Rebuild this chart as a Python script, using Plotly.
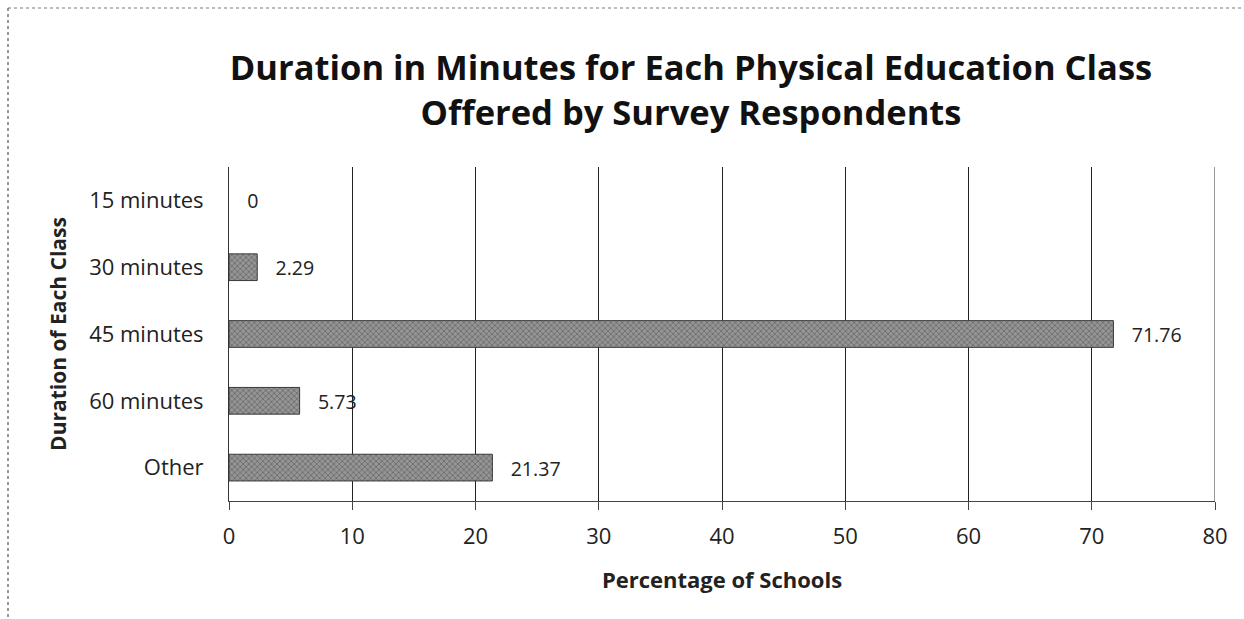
import plotly.graph_objects as go

categories = ["15 minutes", "30 minutes", "45 minutes", "60 minutes", "Other"]
percentages = [0, 2.29, 71.76, 5.73, 21.37]
value_labels = ["0", "2.29", "71.76", "5.73", "21.37"]
x_ticks = [0, 10, 20, 30, 40, 50, 60, 70, 80]

FONT = "Open Sans"
W, H = 1244, 619
ML, MR, MT, MB = 229, 29, 167, 118
PW, PH = W - ML - MR, H - MT - MB

PAD = "\u00a0" * 3  # space between bar end and its value label

fig = go.Figure(
    go.Bar(
        y=categories,
        x=percentages,
        orientation="h",
        text=[PAD + t for t in value_labels],
        textposition="outside",
        cliponaxis=False,
        textfont=dict(family=FONT, size=22, color="#222"),
        marker=dict(
            color="#868686",
            line=dict(color="#3a3a3a", width=[0 if v == 0 else 1 for v in percentages]),
            pattern=dict(shape="x", fgcolor="#444444", bgcolor="#959595", size=4, solidity=0.4),
        ),
        width=0.4,
    )
)

fig.update_layout(
    width=W,
    height=H,
    margin=dict(l=ML, r=MR, t=MT, b=MB),
    paper_bgcolor="white",
    plot_bgcolor="white",
    showlegend=False,
    title=dict(
        text="<b>Duration in Minutes for Each Physical Education Class<br>Offered by Survey Respondents</b>",
        font=dict(family=FONT, size=34.5, color="#111"),
        x=691 / W,
        xanchor="center",
        y=1 - 80 / H,
        yanchor="middle",
    ),
    xaxis=dict(
        range=[0, 80],
        tickvals=x_ticks,
        showgrid=True,
        gridcolor="#222",
        gridwidth=1,
        zeroline=False,
        showline=True,
        linecolor="#444",
        ticks="outside",
        ticklen=8,
        tickcolor="#444",
        ticklabelstandoff=8,
        tickfont=dict(family=FONT, size=22, color="#222"),
        title=dict(text="<b>Percentage of Schools</b>", font=dict(family=FONT, size=22, color="#222"), standoff=23),
    ),
    yaxis=dict(
        categoryorder="array",
        categoryarray=categories,
        autorange="reversed",
        showline=True,
        linecolor="#333",
        showgrid=False,
        ticks="",
        ticklabelstandoff=20,
        tickfont=dict(family=FONT, size=22, color="#222"),
        title=dict(text="<b>Duration of Each Class</b>", font=dict(family=FONT, size=21, color="#222"), standoff=16),
    ),
)

# frame lines of the figure box (top and left edges)
fig.add_shape(type="line", xref="paper", yref="paper",
              x0=(8 - ML) / PW, x1=(W - ML) / PW,
              y0=1 + (MT - 8) / PH, y1=1 + (MT - 8) / PH,
              line=dict(color="#777", width=1, dash="dot"))
fig.add_shape(type="line", xref="paper", yref="paper",
              x0=(8 - ML) / PW, x1=(8 - ML) / PW,
              y0=1 + (MT - 8) / PH, y1=-(MB) / PH,
              line=dict(color="#777", width=1.5, dash="dot"))
# right edge of the plot area at 80
fig.add_shape(type="line", xref="x", yref="paper", x0=80, x1=80, y0=0, y1=1,
              line=dict(color="#333", width=1))

fig.write_html("out.html")
